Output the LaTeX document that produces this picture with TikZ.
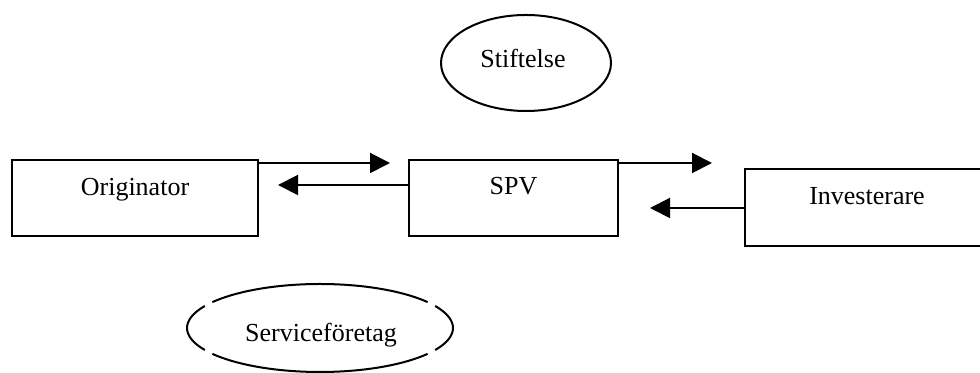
\documentclass[tikz,border=0pt]{standalone}
\usepackage{fontspec}
\setmainfont{Liberation Serif}
\usetikzlibrary{arrows.meta,shapes.geometric,calc}

\begin{document}
\begin{tikzpicture}[x=0.5pt,y=0.5pt,
  every node/.style={font=\fontsize{13pt}{15pt}\selectfont},
  box/.style={draw, line width=1pt, rectangle, inner sep=0pt},
  oval/.style={draw, line width=1pt, ellipse, inner sep=0pt},
  lbl/.style={inner sep=0pt, anchor=base},
  flow/.style={line width=1pt, -{Triangle[length=10pt,width=10pt]}}
]
% canvas
\useasboundingbox (0,0) rectangle (980,373);
\clip (0,0) rectangle (980,373);

% parties
\node[box, minimum width=123pt, minimum height=38pt] (orig) at (135,175) {};
\node[lbl] (origtxt) at (135,177) {Originator};

\node[box, minimum width=104.5pt, minimum height=38pt] (spv) at (513.5,175) {};
\node[lbl] (spvtxt) at (513.5,178) {SPV};

\node[box, minimum width=122pt, minimum height=38.5pt] (inv) at (867,165.5) {};
\node[lbl] (invtxt) at (867,168) {Investerare};

% foundation
\node[oval, minimum width=85pt, minimum height=48pt] (stift) at (526,310) {};
\node[lbl] (stifttxt) at (523,305) {Stiftelse};

% servicer, drawn as a broken outline
\node[ellipse, inner sep=0pt, minimum width=133pt, minimum height=44pt] (serv) at (320,45) {};
\node[lbl] (servtxt) at (321,31) {Serviceföretag};
\foreach \a/\b in {-30/30, 36/144, 150/210, 216/324}{
  \draw[line width=1pt] ($(serv.center)+({66.5pt*cos(\a)},{22pt*sin(\a)})$)
    arc[start angle=\a, end angle=\b, x radius=66.5pt, y radius=22pt];
}

% flows between the parties
\coordinate (t1) at (390,210);
\coordinate (t2) at (278,188);
\coordinate (t3) at (712,210);
\coordinate (t4) at (650,165);
\draw[flow] (orig.east |- t1) -- (t1);
\draw[flow] (spv.west |- t2) -- (t2);
\draw[flow] (spv.east |- t3) -- (t3);
\draw[flow] (inv.west |- t4) -- (t4);
\end{tikzpicture}
\end{document}
